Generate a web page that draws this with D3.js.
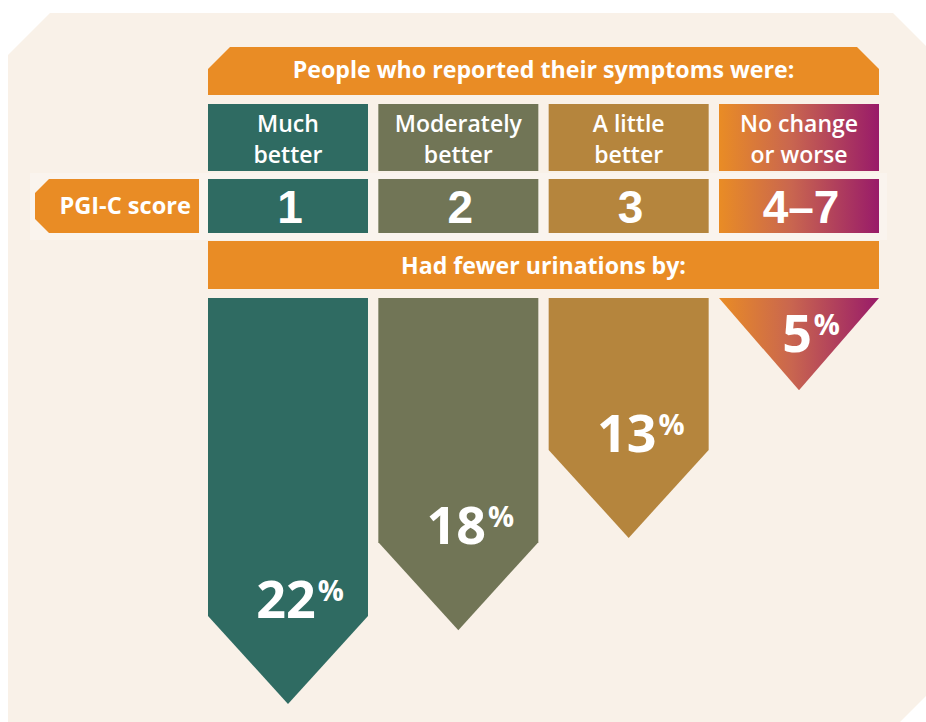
<!DOCTYPE html>
<html>
<head>
<meta charset="utf-8">
<script src="https://cdn.jsdelivr.net/npm/d3@7"></script>
<style>
  html, body { margin:0; padding:0; background:#fff; }
  svg { display:block; }
</style>
</head>
<body>
<svg id="stage" width="926" height="722"></svg>
<script>
// ---- data ----
const categories   = ["Much better", "Moderately better", "A little better", "No change or worse"];
const headerLines  = [["Much", "better"], ["Moderately", "better"], ["A little", "better"], ["No change", "or worse"]];
const scores       = ["1", "2", "3", "4–7"];
const reductions   = [22, 18, 13, 5];
const topTitle     = "People who reported their symptoms were:";
const midTitle     = "Had fewer urinations by:";
const rowLabel     = "PGI-C score";

// ---- look ----
const ORANGE = "#E98C25";
const FILLS  = ["#2F6B62", "#717556", "#B5853D", "url(#grad)"];
const BG     = "#F9F1E8";
const FONT   = "'Open Sans', sans-serif";

const svg = d3.select("#stage");
const defs = svg.append("defs");
const grad = defs.append("linearGradient").attr("id", "grad")
  .attr("x1", "0%").attr("x2", "100%").attr("y1", "0%").attr("y2", "0%");
grad.append("stop").attr("offset", "0%").attr("stop-color", "#E98C25");
grad.append("stop").attr("offset", "45%").attr("stop-color", "#C9664F");
grad.append("stop").attr("offset", "100%").attr("stop-color", "#991B69");

// background card with cut corners
svg.append("polygon")
  .attr("points", [[50,13],[893,13],[940,60],[940,682],[892,730],[8,730],[8,55]].join(" "))
  .attr("fill", BG);

// scales
const x = d3.scaleBand().domain(categories).range([208, 879]).paddingInner(0.0607);
const bw = x.bandwidth();
const ARROW_TOP = 298;
const y = d3.scaleLinear().domain([0, 22]).range([ARROW_TOP, 704]);

// subtle lighter strip behind score row
svg.append("rect").attr("x", 30).attr("y", 173).attr("width", 857).attr("height", 67)
  .attr("fill", "#FAF4EE");

// ---- top banner ----
const bx0 = x.range()[0], bx1 = x.range()[1], cut = 22;
svg.append("polygon")
  .attr("points", [[bx0+cut,47],[bx1-cut,47],[bx1,47+cut],[bx1,95],[bx0,95],[bx0,47+cut]].join(" "))
  .attr("fill", ORANGE);
svg.append("text")
  .attr("x", (bx0+bx1)/2).attr("y", 78)
  .attr("text-anchor", "middle")
  .attr("font-family", FONT).attr("font-weight", 700).attr("font-size", 23.2)
  .attr("fill", "#fff")
  .text(topTitle);

// ---- column headers ----
const head = svg.append("g").selectAll("g").data(categories).join("g");
head.append("rect")
  .attr("x", d => x(d)).attr("y", 104).attr("width", bw).attr("height", 67)
  .attr("fill", (d,i) => FILLS[i]);
head.each(function(d, i){
  const t = d3.select(this).append("text")
    .attr("text-anchor", "middle")
    .attr("font-family", FONT).attr("font-weight", 600).attr("font-size", 23)
    .attr("fill", "#fff");
  headerLines[i].forEach((ln, k) => {
    t.append("tspan").attr("x", x(d) + bw/2).attr("y", 132 + k*31).text(ln);
  });
});

// ---- score row ----
svg.append("polygon")
  .attr("points", [[49,179],[199,179],[199,233],[49,233],[35,219],[35,193]].join(" "))
  .attr("fill", ORANGE);
svg.append("text")
  .attr("x", 191).attr("y", 214)
  .attr("text-anchor", "end")
  .attr("font-family", FONT).attr("font-weight", 700).attr("font-size", 23.6)
  .attr("fill", "#fff")
  .text(rowLabel);

const score = svg.append("g").selectAll("g").data(categories).join("g");
score.append("rect")
  .attr("x", d => x(d)).attr("y", 179).attr("width", bw).attr("height", 54)
  .attr("fill", (d,i) => FILLS[i]);
score.append("text")
  .attr("x", d => x(d) + bw/2 + 2).attr("y", 223)
  .attr("text-anchor", "middle")
  .attr("font-family", "'Liberation Sans', Arial, sans-serif").attr("font-weight", 700).attr("font-size", 46)
  .attr("fill", "#fff")
  .text((d,i) => scores[i]);

// ---- second banner ----
svg.append("rect").attr("x", bx0).attr("y", 241).attr("width", bx1-bx0).attr("height", 48)
  .attr("fill", ORANGE);
svg.append("text")
  .attr("x", (bx0+bx1)/2).attr("y", 274)
  .attr("text-anchor", "middle")
  .attr("font-family", FONT).attr("font-weight", 700).attr("font-size", 23.1)
  .attr("fill", "#fff")
  .text(midTitle);

// ---- arrows ----
const HEAD = 88;
function arrowPath(d, v){
  const x0 = x(d), x1 = x0 + bw, cx = x0 + bw/2;
  const tip = y(v), len = tip - ARROW_TOP;
  const h = len < 2*HEAD ? len : HEAD;
  const sh = tip - h;
  return `M${x0},${ARROW_TOP}L${x1},${ARROW_TOP}L${x1},${sh}L${cx},${tip}L${x0},${sh}Z`;
}
const arrows = svg.append("g").selectAll("g").data(categories).join("g");
arrows.append("path")
  .attr("d", (d,i) => arrowPath(d, reductions[i]))
  .attr("fill", (d,i) => FILLS[i]);

arrows.each(function(d, i){
  const g = d3.select(this);
  const cx = x(d) + bw/2;
  const base = Math.max(y(reductions[i]) - 86, ARROW_TOP + 54);
  const num = g.append("text")
    .attr("x", cx - 2).attr("y", base)
    .attr("text-anchor", "middle")
    .attr("font-family", FONT).attr("font-weight", 700).attr("font-size", 52)
    .attr("fill", "#fff")
    .text(reductions[i]);
  const w = num.node().getComputedTextLength();
  g.append("text")
    .attr("x", cx - 2 + w/2 + 2).attr("y", base - 17)
    .attr("font-family", FONT).attr("font-weight", 700).attr("font-size", 29)
    .attr("fill", "#fff")
    .text("%");
});
</script>
</body>
</html>
